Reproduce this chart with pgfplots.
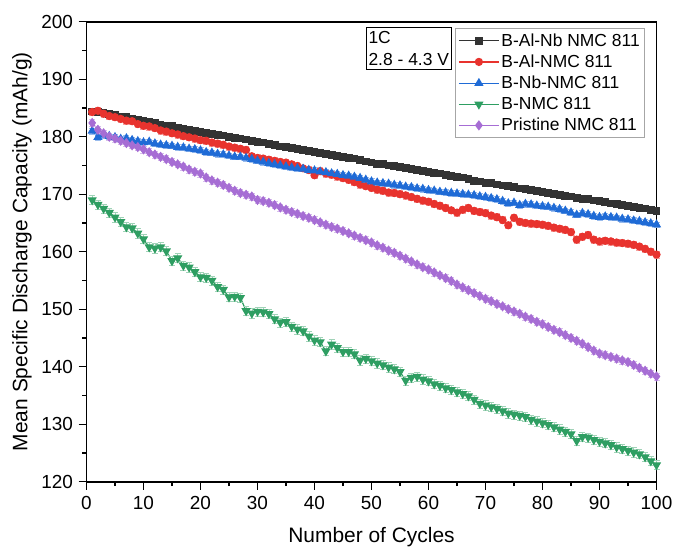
\documentclass[border=0pt]{standalone}
\usepackage{pgfplots}
\usepackage{pgfplotstable}
\usepackage{fontspec}
\setmainfont{Liberation Sans}
\pgfplotsset{compat=1.18}
\definecolor{cblk}{HTML}{333333}
\definecolor{cred}{HTML}{E8332E}
\definecolor{cblu}{HTML}{1F6BD6}
\definecolor{cgrn}{HTML}{2E9E62}
\definecolor{cpur}{HTML}{A66DD4}

\pgfplotstableread{
x y
1 184.4
2 184.3
3 184.2
4 183.9
5 183.8
6 183.5
7 183.4
8 183.1
9 183.0
10 182.8
11 182.5
12 182.4
13 182.1
14 181.9
15 181.8
16 181.5
17 181.4
18 181.2
19 181.0
20 180.8
21 180.7
22 180.5
23 180.3
24 180.2
25 180.0
26 179.8
27 179.7
28 179.5
29 179.3
30 179.1
31 179.0
32 178.8
33 178.5
34 178.3
35 178.2
36 178.0
37 177.8
38 177.7
39 177.5
40 177.3
41 177.2
42 177.0
43 176.8
44 176.7
45 176.5
46 176.3
47 176.2
48 175.9
49 175.7
50 175.5
51 175.3
52 175.2
53 175.0
54 174.9
55 174.7
56 174.5
57 174.4
58 174.2
59 174.0
60 173.9
61 173.7
62 173.6
63 173.4
64 173.2
65 173.0
66 172.9
67 172.6
68 172.3
69 172.2
70 172.0
71 171.9
72 171.7
73 171.5
74 171.4
75 171.2
76 171.0
77 170.9
78 170.7
79 170.5
80 170.4
81 170.2
82 170.0
83 169.9
84 169.7
85 169.6
86 169.4
87 169.2
88 169.1
89 168.9
90 168.8
91 168.6
92 168.4
93 168.3
94 168.1
95 168.0
96 167.8
97 167.6
98 167.5
99 167.3
100 167.1
}\dataBAlNb

\pgfplotstableread{
x y
1 184.3
2 184.5
3 184.0
4 183.6
5 183.4
6 183.1
7 182.8
8 182.7
9 182.2
10 181.9
11 181.8
12 181.5
13 181.1
14 180.9
15 180.6
16 180.4
17 180.1
18 179.9
19 179.7
20 179.4
21 179.3
22 179.0
23 178.8
24 178.6
25 178.3
26 178.1
27 177.9
28 177.7
29 176.6
30 176.3
31 176.2
32 176.0
33 175.8
34 175.6
35 175.5
36 175.2
37 174.9
38 174.5
39 174.2
40 173.3
41 174.0
42 173.6
43 173.4
44 173.1
45 172.8
46 172.5
47 172.1
48 171.7
49 171.4
50 171.1
51 170.8
52 170.6
53 170.3
54 170.2
55 170.0
56 169.8
57 169.5
58 169.2
59 168.9
60 168.7
61 168.3
62 168.0
63 167.6
64 167.2
65 166.8
66 167.3
67 167.6
68 167.1
69 166.9
70 166.7
71 166.3
72 166.0
73 165.5
74 164.6
75 165.9
76 165.2
77 165.0
78 164.9
79 164.8
80 164.7
81 164.5
82 164.2
83 164.0
84 163.8
85 163.4
86 162.1
87 162.6
88 162.9
89 162.1
90 161.8
91 161.9
92 161.8
93 161.6
94 161.5
95 161.4
96 161.2
97 160.9
98 160.5
99 160.0
100 159.5
}\dataBAl

\pgfplotstableread{
x y
1 181.0
2 179.9
3 180.3
4 180.1
5 179.9
6 179.6
7 179.7
8 179.4
9 179.2
10 179.0
11 179.1
12 178.8
13 178.6
14 178.5
15 178.4
16 178.2
17 178.1
18 177.9
19 177.8
20 177.6
21 177.3
22 177.2
23 177.0
24 176.9
25 176.7
26 176.5
27 176.5
28 176.3
29 176.1
30 175.8
31 175.6
32 175.4
33 175.2
34 175.0
35 174.8
36 174.6
37 174.5
38 174.4
39 174.2
40 174.1
41 173.9
42 173.8
43 173.6
44 173.5
45 173.3
46 173.2
47 173.0
48 172.8
49 172.5
50 172.2
51 172.0
52 171.9
53 171.8
54 171.6
55 171.5
56 171.3
57 171.2
58 171.0
59 170.9
60 170.7
61 170.6
62 170.4
63 170.3
64 170.2
65 170.1
66 170.0
67 169.9
68 169.8
69 169.6
70 169.5
71 169.3
72 169.1
73 168.8
74 168.4
75 168.5
76 168.1
77 168.3
78 168.2
79 168.0
80 167.9
81 167.8
82 167.6
83 167.4
84 167.1
85 166.8
86 166.4
87 166.7
88 166.5
89 166.2
90 166.0
91 166.1
92 166.0
93 165.9
94 165.7
95 165.6
96 165.4
97 165.3
98 165.1
99 164.9
100 164.7
}\dataBNb

\pgfplotstableread{
x y
1 169.0
2 168.2
3 167.5
4 166.8
5 166.0
6 165.2
7 164.3
8 164.1
9 163.2
10 162.2
11 160.8
12 160.6
13 160.8
14 160.1
15 158.4
16 158.9
17 157.6
18 157.3
19 156.5
20 155.6
21 155.5
22 155.0
23 153.9
24 153.4
25 152.1
26 152.2
27 152.0
28 149.7
29 149.3
30 149.6
31 149.5
32 149.2
33 148.3
34 147.7
35 147.8
36 147.0
37 146.5
38 146.2
39 145.3
40 144.6
41 144.3
42 142.7
43 143.9
44 143.3
45 142.6
46 142.6
47 142.2
48 141.1
49 141.4
50 141.0
51 140.6
52 140.3
53 139.9
54 139.6
55 139.1
56 137.6
57 138.1
58 138.3
59 137.8
60 137.5
61 137.0
62 136.7
63 136.3
64 136.0
65 135.6
66 135.3
67 134.9
68 134.3
69 133.6
70 133.3
71 133.0
72 132.7
73 132.3
74 131.9
75 131.7
76 131.5
77 131.3
78 130.8
79 130.5
80 130.2
81 129.9
82 129.5
83 129.1
84 128.7
85 128.3
86 127.1
87 127.8
88 127.7
89 127.3
90 127.0
91 126.7
92 126.4
93 126.0
94 125.7
95 125.4
96 125.1
97 124.8
98 124.3
99 123.6
100 122.9
}\dataB

\pgfplotstableread{
x y
1 182.4
2 181.2
3 180.6
4 180.0
5 179.7
6 179.3
7 178.9
8 178.5
9 178.2
10 177.8
11 177.3
12 176.9
13 176.5
14 176.1
15 175.6
16 175.2
17 174.8
18 174.3
19 173.9
20 173.6
21 172.9
22 172.4
23 172.0
24 171.6
25 171.1
26 170.6
27 170.2
28 169.9
29 169.6
30 169.0
31 168.8
32 168.5
33 168.1
34 167.7
35 167.3
36 166.9
37 166.6
38 166.2
39 165.9
40 165.5
41 165.1
42 164.7
43 164.3
44 164.0
45 163.6
46 163.2
47 162.8
48 162.4
49 162.0
50 161.6
51 161.1
52 160.7
53 160.2
54 159.8
55 159.3
56 158.8
57 158.3
58 157.8
59 157.3
60 156.9
61 156.4
62 155.9
63 155.4
64 154.9
65 154.3
66 153.8
67 153.3
68 152.8
69 152.3
70 151.8
71 151.4
72 150.9
73 150.5
74 150.0
75 149.6
76 149.2
77 148.7
78 148.3
79 147.8
80 147.4
81 146.9
82 146.4
83 146.0
84 145.5
85 145.0
86 144.5
87 144.0
88 143.4
89 142.8
90 142.3
91 142.0
92 141.7
93 141.4
94 141.1
95 140.8
96 140.3
97 139.8
98 139.3
99 138.8
100 138.3
}\dataP

\begin{document}
\begin{tikzpicture}
\path[use as bounding box] (-86.5bp,-71.3bp) rectangle (589.5bp,481.7bp);
\begin{axis}[
  scale only axis,
  width=570bp, height=460bp,
  xmin=0, xmax=100, ymin=120, ymax=200,
  xtick={0,10,...,100}, ytick={120,130,...,200},
  minor x tick num=1, minor y tick num=1,
  xtick pos=bottom, ytick pos=left,
  tick align=outside,
  major tick length=8bp, minor tick length=4.5bp,
  every tick/.style={black, line width=1.2bp},
  axis line style={line width=1.6bp},
  /pgf/number format/assume math mode=true,
  ticklabel style={font=\fontsize{19}{22}\selectfont},
  xticklabel style={yshift=-3bp},
  yticklabel style={xshift=-2bp},
  xlabel={Number of Cycles},
  ylabel={Mean Specific Discharge Capacity (mAh/g)},
  label style={font=\fontsize{21}{25}\selectfont},
  xlabel style={at={(axis description cs:0.5,-0.120)}, anchor=center},
  ylabel style={at={(axis description cs:-0.113,0.5)}, anchor=center},
  legend style={at={(rel axis cs:0.980,0.986)}, anchor=north east,
    draw=gray!70, line width=0.8bp, fill=white,
    font=\fontsize{17.5}{20}\selectfont, row sep=3.2bp,
    inner xsep=3bp, inner ysep=3bp},
  legend cell align=left,
  legend image code/.code={\draw[mark repeat=2,mark phase=2] plot coordinates {(0bp,0bp)(20bp,0bp)(40bp,0bp)};},
  every axis plot/.append style={line width=1.2bp},
  clip=false,
]
\addplot[color=cblk, mark=square*, mark size=3.3bp,
  error bars/.cd, y dir=both, y fixed=0.5,
  error bar style={line width=0.6bp, color=cblk!45},
  error mark options={rotate=90, mark size=3bp, line width=0.6bp, color=cblk!45}]
  table[x=x,y=y] {\dataBAlNb};
\addlegendentry{B-Al-Nb NMC 811}
\addplot[color=cred, mark=*, mark size=3.5bp,
  error bars/.cd, y dir=both, y fixed=0.6,
  error bar style={line width=0.6bp, color=cred!45},
  error mark options={rotate=90, mark size=3bp, line width=0.6bp, color=cred!45}]
  table[x=x,y=y] {\dataBAl};
\addlegendentry{B-Al-NMC 811}
\addplot[color=cblu, mark=triangle*, mark size=4.2bp,
  error bars/.cd, y dir=both, y fixed=0.5,
  error bar style={line width=0.6bp, color=cblu!45},
  error mark options={rotate=90, mark size=3bp, line width=0.6bp, color=cblu!45}]
  table[x=x,y=y] {\dataBNb};
\addlegendentry{B-Nb-NMC 811}
\addplot[color=cgrn, mark=triangle*, mark size=4.2bp, mark options={rotate=180},
  error bars/.cd, y dir=both, y fixed=0.8,
  error bar style={line width=0.6bp, color=cgrn!45},
  error mark options={rotate=90, mark size=3bp, line width=0.6bp, color=cgrn!45}]
  table[x=x,y=y] {\dataB};
\addlegendentry{B-NMC 811}
\addplot[color=cpur, mark=diamond*, mark size=4.2bp,
  error bars/.cd, y dir=both, y fixed=0.6,
  error bar style={line width=0.6bp, color=cpur!45},
  error mark options={rotate=90, mark size=3bp, line width=0.6bp, color=cpur!45}]
  table[x=x,y=y] {\dataP};
\addlegendentry{Pristine NMC 811}
\node[draw=black, line width=0.8bp, fill=white, align=left, anchor=north east,
  font=\fontsize{17.5}{22}\selectfont, inner xsep=2.5bp, inner ysep=4bp]
  at (rel axis cs:0.641,0.988) {1C\\2.8 - 4.3 V};
\end{axis}
\end{tikzpicture}
\end{document}
